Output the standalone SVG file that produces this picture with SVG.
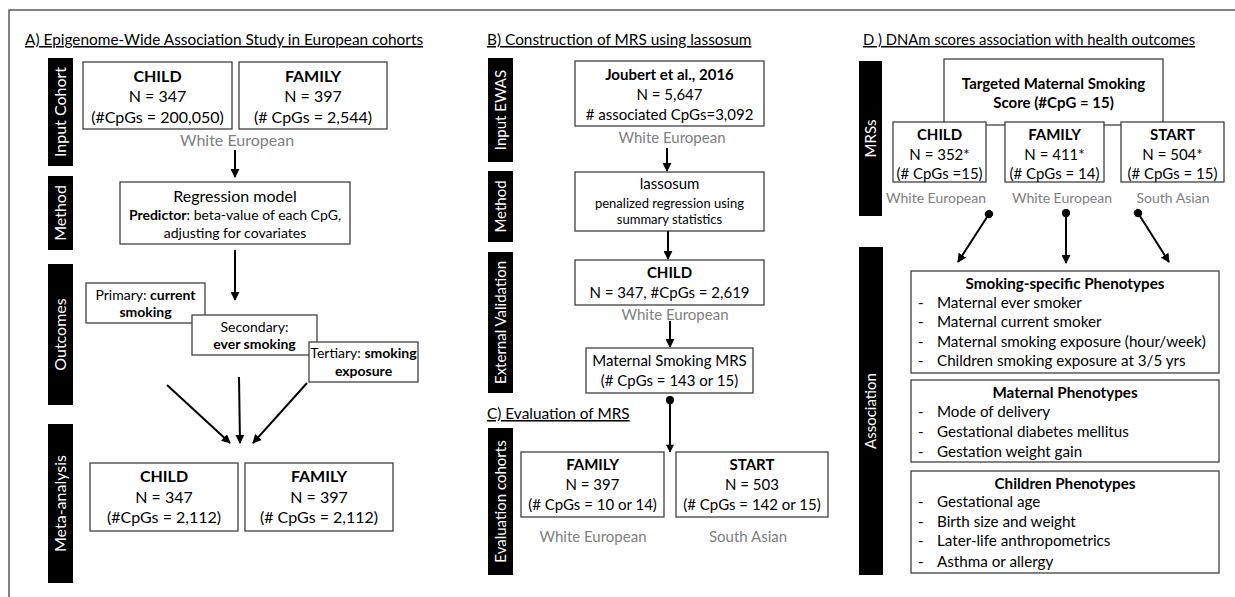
<svg xmlns="http://www.w3.org/2000/svg" width="1235" height="597" viewBox="0 0 1235 597">
<defs>
<marker id="ah" viewBox="0 0 10 10" refX="9" refY="5" markerWidth="4.5" markerHeight="4.5" orient="auto" markerUnits="strokeWidth">
<path d="M0,0 L10,5 L0,10 z" fill="#000"/>
</marker>
<marker id="ahL" viewBox="0 0 10 10" refX="9" refY="5" markerWidth="5.5" markerHeight="4" orient="auto" markerUnits="strokeWidth">
<path d="M0,0 L10,5 L0,10 z" fill="#000"/>
</marker>
<marker id="dot" viewBox="0 0 10 10" refX="5" refY="5" markerWidth="4.2" markerHeight="4.2" orient="auto" markerUnits="strokeWidth">
<circle cx="5" cy="5" r="5" fill="#000"/>
</marker>
</defs>
<style>
text{font-family:Lato,"Open Sans","Liberation Sans",sans-serif;font-size:16px;fill:#000}
.c{text-anchor:middle}
.b{font-weight:bold}
.g{fill:#808080}
.t{text-decoration:underline;font-size:15.4px}
.w{fill:#fff;text-anchor:middle}
.sm{font-size:14px}
.xs{font-size:13px}
.m{font-size:15px}
.gd{font-size:14px}
.li{font-size:15.2px}
.box{fill:#fff;stroke:#404040;stroke-width:1.3}
.bar{fill:#000}
.ln{stroke:#000;stroke-width:2;fill:none}
</style>
<rect x="9" y="10" width="1240" height="600" fill="#fff" stroke="#404040" stroke-width="1.3"/>

<!-- Panel A -->
<g id="titleA"><text x="25" y="45" class="t">A) Epigenome-Wide Association Study in European cohorts</text></g>
<g id="barA1"><rect class="bar" x="48" y="58" width="25" height="108"/><text class="w" transform="translate(66,112) rotate(-90)">Input Cohort</text></g>
<g id="barA2"><rect class="bar" x="48" y="176" width="25" height="74"/><text class="w" transform="translate(66,213) rotate(-90)">Method</text></g>
<g id="barA3"><rect class="bar" x="48" y="264" width="25" height="141"/><text class="w" transform="translate(66,334.5) rotate(-90)">Outcomes</text></g>
<g id="barA4"><rect class="bar" x="48" y="424" width="25" height="159"/><text class="w" transform="translate(66,503.5) rotate(-90)">Meta-analysis</text></g>

<g id="childA"><rect class="box" x="83" y="62" width="149" height="67"/>
<text x="157.5" y="82" class="c b">CHILD</text><text x="157.5" y="102" class="c">N = 347</text><text x="157.5" y="123" class="c">(#CpGs = 200,050)</text></g>
<g id="familyA"><rect class="box" x="239" y="62" width="148" height="67"/>
<text x="313" y="82" class="c b">FAMILY</text><text x="313" y="102" class="c">N = 397</text><text x="313" y="123" class="c">(# CpGs = 2,544)</text></g>
<g id="weA"><text x="237" y="146" class="c g">White European</text></g>

<g id="regA"><rect class="box" x="120" y="182" width="230" height="62"/>
<text x="235" y="202" class="c">Regression model</text>
<text x="235" y="220" class="c sm"><tspan class="b">Predictor</tspan>: beta-value of each CpG,</text>
<text x="235" y="238" class="c sm">adjusting for covariates</text></g>

<g id="primA"><rect class="box" x="86" y="283" width="119" height="40"/>
<text x="145.5" y="300" class="c sm">Primary: <tspan class="b">current</tspan></text><text x="145.5" y="317" class="c sm b">smoking</text></g>
<g id="secA"><rect class="box" x="192" y="315" width="125" height="40"/>
<text x="254.5" y="332" class="c sm">Secondary:</text><text x="254.5" y="349" class="c sm b">ever smoking</text></g>
<g id="terA"><rect class="box" x="309" y="342" width="109" height="40"/>
<text x="363.5" y="358" class="c sm">Tertiary: <tspan class="b">smoking</tspan></text><text x="363.5" y="376" class="c sm b">exposure</text></g>

<g id="metaChild"><rect class="box" x="90" y="463" width="148" height="68"/>
<text x="164" y="482" class="c b">CHILD</text><text x="164" y="503" class="c">N = 347</text><text x="164" y="523" class="c">(#CpGs = 2,112)</text></g>
<g id="metaFamily"><rect class="box" x="245" y="463" width="148" height="68"/>
<text x="319" y="482" class="c b">FAMILY</text><text x="319" y="503" class="c">N = 397</text><text x="319" y="523" class="c">(# CpGs = 2,112)</text></g>

<!-- Panel B -->
<g id="titleB"><text x="487" y="45" class="t">B) Construction of MRS using lassosum</text></g>
<g id="barB1"><rect class="bar" x="488" y="58" width="25" height="104"/><text class="w m" transform="translate(505.5,110) rotate(-90)">Input EWAS</text></g>
<g id="barB2"><rect class="bar" x="488" y="171" width="25" height="71"/><text class="w m" transform="translate(505.5,206.5) rotate(-90)">Method</text></g>
<g id="barB3"><rect class="bar" x="488" y="252" width="25" height="141"/><text class="w m" transform="translate(505.5,322.5) rotate(-90)">External Validation</text></g>

<g id="joubert"><rect class="box" x="575" y="61" width="189" height="65"/>
<text x="669.5" y="80" class="c b m">Joubert et al., 2016</text><text x="669.5" y="100" class="c m">N = 5,647</text><text x="669.5" y="120" class="c m"># associated CpGs=3,092</text></g>
<g id="weB1"><text x="672" y="143" class="c g m">White European</text></g>
<g id="lasso"><rect class="box" x="575" y="172" width="189" height="59"/>
<text x="669.5" y="189" class="c m">lassosum</text><text x="669.5" y="208" class="c xs">penalized regression using</text><text x="669.5" y="224" class="c xs">summary statistics</text></g>
<g id="childB"><rect class="box" x="575" y="260" width="189" height="45"/>
<text x="669.5" y="278" class="c b m">CHILD</text><text x="669.5" y="298" class="c m">N = 347, #CpGs = 2,619</text></g>
<g id="weB2"><text x="675" y="320" class="c g m">White European</text></g>
<g id="mrs"><rect class="box" x="586" y="348" width="167" height="45"/>
<text x="669.5" y="366" class="c m">Maternal Smoking MRS</text><text x="669.5" y="386" class="c m">(# CpGs = 143 or 15)</text></g>

<!-- Panel C -->
<g id="titleC"><text x="487" y="419" class="t">C) Evaluation of MRS</text></g>
<g id="barC"><rect class="bar" x="488" y="428" width="25" height="147"/><text class="w m" transform="translate(505.5,501.5) rotate(-90)">Evaluation cohorts</text></g>
<g id="familyC"><rect class="box" x="521" y="452" width="143" height="65"/>
<text x="592.5" y="470" class="c b m">FAMILY</text><text x="592.5" y="490" class="c m">N = 397</text><text x="592.5" y="510" class="c m">(# CpGs = 10 or 14)</text></g>
<g id="startC"><rect class="box" x="676" y="452" width="152" height="65"/>
<text x="752" y="470" class="c b m">START</text><text x="752" y="490" class="c m">N = 503</text><text x="752" y="510" class="c m">(# CpGs = 142 or 15)</text></g>
<g id="weC"><text x="593" y="542" class="c g m">White European</text></g>
<g id="saC"><text x="748" y="542" class="c g m">South Asian</text></g>

<!-- Panel D -->
<g id="titleD"><text x="863" y="45" class="t" style="font-size:14.8px">D ) DNAm scores association with health outcomes</text></g>
<g id="barD1"><rect class="bar" x="859" y="61" width="23" height="155"/><text class="w m" transform="translate(875.5,138.5) rotate(-90)">MRSs</text></g>
<g id="barD2"><rect class="bar" x="859" y="247" width="24" height="328"/><text class="w m" transform="translate(876,411) rotate(-90)">Association</text></g>

<g id="targeted"><rect class="box" x="944" y="59" width="219" height="66"/>
<text x="1053.5" y="89" class="c b m">Targeted Maternal Smoking</text><text x="1053.5" y="108" class="c b m">Score (#CpG = 15)</text></g>
<g id="childD"><rect class="box" x="893" y="122" width="93" height="60"/>
<text x="939.5" y="140" class="c b m">CHILD</text><text x="939.5" y="160" class="c m">N = 352*</text><text x="939.5" y="179" class="c m">(# CpGs =15)</text></g>
<g id="familyD"><rect class="box" x="1005" y="122" width="99" height="60"/>
<text x="1054.5" y="140" class="c b m">FAMILY</text><text x="1054.5" y="160" class="c m">N = 411*</text><text x="1054.5" y="179" class="c m">(# CpGs = 14)</text></g>
<g id="startD"><rect class="box" x="1121" y="122" width="103" height="60"/>
<text x="1172.5" y="140" class="c b m">START</text><text x="1172.5" y="160" class="c m">N = 504*</text><text x="1172.5" y="179" class="c m">(# CpGs = 15)</text></g>
<g id="weD1"><text x="936" y="203" class="c g gd">White European</text></g>
<g id="weD2"><text x="1062" y="203" class="c g gd">White European</text></g>
<g id="saD"><text x="1173" y="203" class="c g gd">South Asian</text></g>

<g id="smokingPheno"><rect class="box" x="911" y="271" width="308" height="102"/>
<text x="1065" y="289" class="c b li">Smoking-specific Phenotypes</text>
<text x="918" y="308" class="li">-</text><text x="937" y="308" class="li">Maternal ever smoker</text>
<text x="918" y="327" class="li">-</text><text x="937" y="327" class="li">Maternal current smoker</text>
<text x="918" y="347" class="li">-</text><text x="937" y="347" class="li">Maternal smoking exposure (hour/week)</text>
<text x="918" y="366" class="li">-</text><text x="937" y="366" class="li">Children smoking exposure at 3/5 yrs</text></g>
<g id="maternalPheno"><rect class="box" x="911" y="380" width="308" height="82"/>
<text x="1065" y="398" class="c b li">Maternal Phenotypes</text>
<text x="918" y="417" class="li">-</text><text x="937" y="417" class="li">Mode of delivery</text>
<text x="918" y="437" class="li">-</text><text x="937" y="437" class="li">Gestational diabetes mellitus</text>
<text x="918" y="457" class="li">-</text><text x="937" y="457" class="li">Gestation weight gain</text></g>
<g id="childrenPheno"><rect class="box" x="911" y="471" width="308" height="102"/>
<text x="1065" y="489" class="c b li">Children Phenotypes</text>
<text x="918" y="507" class="li">-</text><text x="937" y="507" class="li">Gestational age</text>
<text x="918" y="527" class="li">-</text><text x="937" y="527" class="li">Birth size and weight</text>
<text x="918" y="546" class="li">-</text><text x="937" y="546" class="li">Later-life anthropometrics</text>
<text x="918" y="567" class="li">-</text><text x="937" y="567" class="li">Asthma or allergy</text></g>

<!-- Connectors -->
<g id="connectors">
<line class="ln" x1="235" y1="150" x2="235" y2="177" marker-end="url(#ah)"/>
<line class="ln" x1="235" y1="250" x2="235" y2="300" marker-end="url(#ah)"/>
<line class="ln" x1="167" y1="385" x2="230" y2="443" marker-end="url(#ah)"/>
<line class="ln" x1="239" y1="377" x2="240" y2="443" marker-end="url(#ah)"/>
<line class="ln" x1="307" y1="383" x2="253" y2="443" marker-end="url(#ah)"/>
<line class="ln" x1="667" y1="148" x2="667" y2="171" marker-end="url(#ah)"/>
<line class="ln" x1="668" y1="231" x2="668" y2="259" marker-end="url(#ah)"/>
<line class="ln" x1="670" y1="321" x2="670" y2="347" marker-end="url(#ah)"/>
<line class="ln" x1="670" y1="400" x2="670" y2="452" stroke-width="2.6" marker-start="url(#dot)" marker-end="url(#ahL)"/>
<line class="ln" x1="989" y1="214" x2="958" y2="262" marker-start="url(#dot)" marker-end="url(#ah)"/>
<line class="ln" x1="1066" y1="213" x2="1066" y2="263" marker-start="url(#dot)" marker-end="url(#ah)"/>
<line class="ln" x1="1138" y1="213" x2="1169" y2="262" marker-start="url(#dot)" marker-end="url(#ah)"/>
</g>
</svg>
